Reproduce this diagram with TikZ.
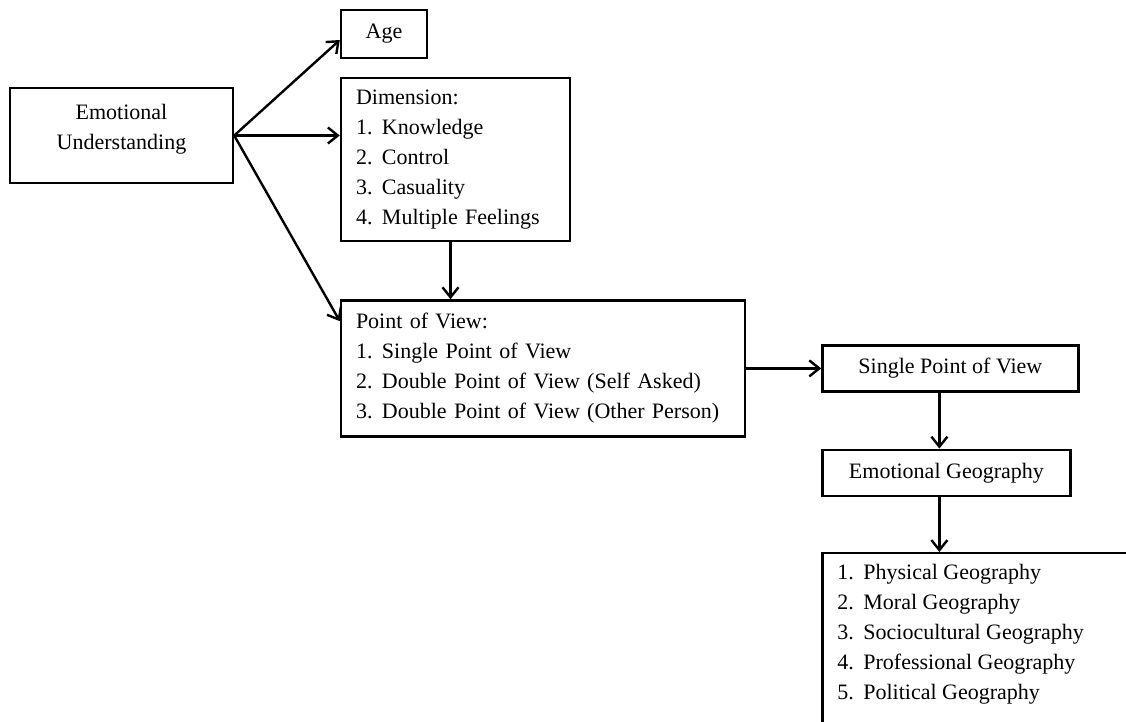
\documentclass[tikz,border=0pt]{standalone}
\usepackage{fontspec}
\setmainfont{Liberation Serif}
\usetikzlibrary{arrows.meta}
\usetikzlibrary{positioning}

\newcommand{\itm}[2]{\makebox[13pt][l]{#1}#2}

\begin{document}
\begin{tikzpicture}[x=0.5pt,y=-0.5pt,>={Straight Barb[length=5pt,width=8pt]},line width=1.2pt,
                    font=\fontsize{11}{15}\selectfont,
                    main box/.style={draw,rectangle,align=center,inner sep=0pt},
                    list box/.style={draw,rectangle,align=left,inner xsep=7.5pt,inner ysep=0pt}]

  \clip (0,0) rectangle (1126,722);

  \node[main box,minimum width=111.5pt,minimum height=47.5pt] (EU) at (121.5,135.5) {Emotional\\Understanding\\[-6.2pt]\mbox{}};
  \node[main box,minimum width=43pt,minimum height=24pt] (Age) at (384,34) {Age};
  \node[list box,text width=99.5pt,minimum height=81.5pt] (Dim) at (455.5,159.5)
    {Dimension:\\ \itm{1.}{Knowledge}\\ \itm{2.}{Control}\\ \itm{3.}{Casuality}\\ \itm{4.}{Multiple Feelings}};
  \node[list box,text width=187pt,minimum height=68pt,below=28.5pt of Dim.south west,anchor=north west] (PoV)
    {Point of View:\\ \itm{1.}{Single Point of View}\\ \itm{2.}{Double Point of View (Self Asked)}\\ \itm{3.}{Double Point of View (Other Person)}};
  \node[main box,minimum width=128pt,minimum height=23pt,right=37.5pt of PoV] (SPV) {Single Point of View};
  \node[main box,minimum width=124pt,minimum height=23pt,below=28pt of SPV.south west,anchor=north west] (EG) {Emotional Geography};
  \node[main box,minimum width=170pt,minimum height=110pt,below=27.5pt of EG.south west,anchor=north west] (Geo) {};
  \node[align=left,inner sep=0pt,anchor=north west] (GeoList) at ([xshift=7.5pt,yshift=-5.5pt]Geo.north west)
    {\itm{1.}{Physical Geography}\\ \itm{2.}{Moral Geography}\\ \itm{3.}{Sociocultural Geography}\\ \itm{4.}{Professional Geography}\\ \itm{5.}{Political Geography}};

  \draw[->] (EU.east) -- ([yshift=-3pt]Age.west);
  \draw[->] (EU.east) -- (EU.east -| Dim.west);
  \draw[->] (EU.east) -- ([yshift=-11pt]PoV.north west);
  \draw[->] ([xshift=-2.5pt]Dim.south) -- ([xshift=-2.5pt]Dim.south |- PoV.north);
  \draw[->] (PoV.east) -- (PoV.east -| SPV.west);
  \draw[->] ([xshift=-3.5pt]SPV.south -| EG.north) -- ([xshift=-3.5pt]EG.north);
  \draw[->] ([xshift=-3.5pt]EG.south) -- ([xshift=-3.5pt]EG.south |- Geo.north);
\end{tikzpicture}
\end{document}
